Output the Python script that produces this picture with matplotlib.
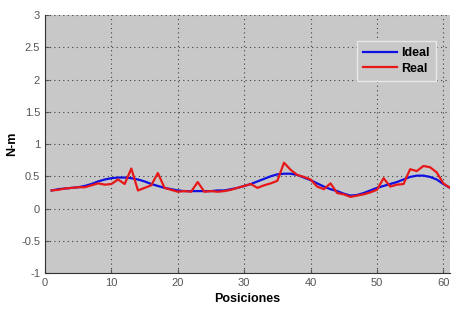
import matplotlib.pyplot as plt

# Datos (posiciones 1..61)
posiciones = list(range(1, 62))

ideal = [0.28, 0.30, 0.31, 0.32, 0.33, 0.35, 0.38, 0.42, 0.45, 0.47,
         0.48, 0.48, 0.47, 0.45, 0.42, 0.38, 0.35, 0.32, 0.30, 0.28,
         0.27, 0.27, 0.27, 0.27, 0.27, 0.28, 0.28, 0.30, 0.32, 0.35,
         0.38, 0.42, 0.46, 0.50, 0.53, 0.54, 0.54, 0.52, 0.48, 0.44,
         0.39, 0.34, 0.30, 0.27, 0.23, 0.20, 0.21, 0.24, 0.28, 0.32,
         0.35, 0.38, 0.41, 0.45, 0.49, 0.51, 0.51, 0.49, 0.45, 0.38,
         0.32]

real = [0.28, 0.29, 0.31, 0.32, 0.33, 0.33, 0.36, 0.39, 0.37, 0.38,
        0.45, 0.38, 0.62, 0.28, 0.32, 0.36, 0.55, 0.32, 0.29, 0.26,
        0.27, 0.26, 0.41, 0.26, 0.27, 0.26, 0.27, 0.29, 0.32, 0.35,
        0.38, 0.32, 0.36, 0.39, 0.43, 0.71, 0.60, 0.52, 0.49, 0.45,
        0.34, 0.30, 0.39, 0.24, 0.22, 0.18, 0.20, 0.22, 0.25, 0.29,
        0.47, 0.34, 0.37, 0.38, 0.61, 0.58, 0.66, 0.64, 0.56, 0.39,
        0.32]

plt.rcParams['font.family'] = ['Liberation Sans', 'DejaVu Sans']

fig = plt.figure(figsize=(4.65, 3.14), dpi=100)
ax = fig.add_axes([0.0968, 0.1306, 0.8709, 0.8214])
ax.set_facecolor('#c8c8c8')

ax.plot(posiciones, ideal, color='#1010e0', linewidth=1.6, label='Ideal')
ax.plot(posiciones, real, color='#e81818', linewidth=1.6, label='Real')

ax.set_xlim(0, 61)
ax.set_ylim(-1, 3)
ax.set_xticks([0, 10, 20, 30, 40, 50, 60])
ax.set_yticks([-1, -0.5, 0, 0.5, 1, 1.5, 2, 2.5, 3])
ax.set_yticklabels(['-1', '-0.5', '0', '0.5', '1', '1.5', '2', '2.5', '3'])
ax.grid(True, linestyle=(0, (1, 3)), color='#404040', linewidth=0.8)
ax.tick_params(labelsize=8, colors='#555555', direction='in', length=3)

for lado in ['top', 'right']:
    ax.spines[lado].set_visible(False)
for lado in ['left', 'bottom']:
    ax.spines[lado].set_color('#333333')

ax.set_xlabel('Posiciones', fontsize=9, fontweight='bold')
ax.set_ylabel('N-m', fontsize=9, fontweight='bold')
ax.yaxis.set_label_coords(-0.066, 0.5)

leg = ax.legend(loc='upper right', bbox_to_anchor=(0.98, 0.925), fontsize=9,
                frameon=True, fancybox=False, handlelength=2.7, borderpad=0.5,
                labelspacing=0.3, handletextpad=0.3)
leg.get_frame().set_facecolor('#c8c8c8')
leg.get_frame().set_edgecolor('#e8e8e8')
leg.get_frame().set_alpha(1)
for t in leg.get_texts():
    t.set_fontweight('bold')

fig.savefig('out.png', dpi=100)
